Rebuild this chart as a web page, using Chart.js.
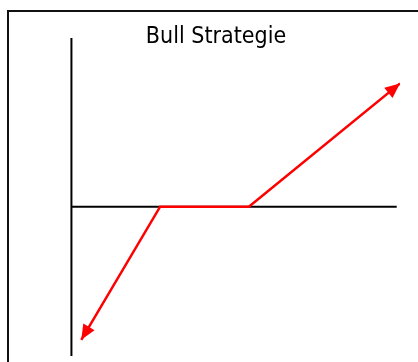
<!DOCTYPE html>
<html>
<head>
<meta charset="utf-8">
<script src="https://cdn.jsdelivr.net/npm/chart.js@4/dist/chart.umd.min.js"></script>
<style>
    html, body { margin: 0; padding: 0; background: #fff; overflow: hidden; }
    #wrap { position: relative; width: 418px; height: 362px; }
    #frame {
        position: absolute; left: 7px; top: 10px;
        width: 430px; height: 370px;
        border: 2px solid #111;
        box-sizing: border-box;
    }
    canvas { position: absolute; left: 0; top: 0; }
</style>
</head>
<body>
<div id="wrap">
    <div id="frame"></div>
    <canvas id="bull-chart" width="418" height="362"></canvas>
</div>
<script>
// Bull Strategie payoff sketch

const chartTitle = 'Bull Strategie';

// payoff line (left arrow tip, lower strike, upper strike, right arrow tip)
const payoffX = [3, 27, 54, 100];
const payoffY = [-41, 0, 0, 38];

// axis lines
const horizX = [0, 99];
const horizY = [0, 0];
const vertX = [0, 0];
const vertY = [-46, 52];

// scale ranges
const xRange = [-12, 100];
const yRange = [-46, 52];

function toPoints(xs, ys) {
    return xs.map((x, i) => ({ x: x, y: ys[i] }));
}

// draws a filled arrow head at both ends of the payoff line
const arrowHeads = {
    id: 'arrowHeads',
    afterDatasetsDraw(chart) {
        const meta = chart.getDatasetMeta(0);
        const pts = meta.data;
        if (!pts || pts.length < 2) return;
        const ctx = chart.ctx;
        const head = (tip, from) => {
            const ang = Math.atan2(tip.y - from.y, tip.x - from.x);
            const len = 15, half = 6.5;
            ctx.save();
            ctx.translate(tip.x, tip.y);
            ctx.rotate(ang);
            ctx.beginPath();
            ctx.moveTo(0, 0);
            ctx.lineTo(-len, -half);
            ctx.lineTo(-len, half);
            ctx.closePath();
            ctx.fillStyle = '#ff0000';
            ctx.fill();
            ctx.restore();
        };
        head(pts[0], pts[1]);
        head(pts[pts.length - 1], pts[pts.length - 2]);
    }
};

const canvas = document.getElementById('bull-chart');

new Chart(canvas, {
    type: 'scatter',
    data: {
        datasets: [
            {
                data: toPoints(payoffX, payoffY),
                showLine: true,
                borderColor: '#ff0000',
                borderWidth: 2.5,
                pointRadius: 0,
                tension: 0,
                order: 0
            },
            {
                data: toPoints(horizX, horizY),
                showLine: true,
                borderColor: '#000000',
                borderWidth: 2,
                pointRadius: 0,
                order: 1
            },
            {
                data: toPoints(vertX, vertY),
                showLine: true,
                borderColor: '#000000',
                borderWidth: 2,
                pointRadius: 0,
                order: 1
            }
        ]
    },
    options: {
        responsive: false,
        animation: false,
        layout: {
            padding: { left: 32, right: 18, top: 0, bottom: 6 }
        },
        scales: {
            x: { type: 'linear', display: false, min: xRange[0], max: xRange[1] },
            y: { type: 'linear', display: false, min: yRange[0], max: yRange[1] }
        },
        plugins: {
            legend: { display: false },
            tooltip: { enabled: false },
            title: {
                display: true,
                text: chartTitle,
                color: '#000',
                font: { family: "'DejaVu Sans Condensed', 'DejaVu Sans', sans-serif", size: 23, weight: 'normal', lineHeight: 1 },
                padding: { top: 26, bottom: -11 }
            }
        }
    },
    plugins: [arrowHeads]
});
</script>
</body>
</html>
